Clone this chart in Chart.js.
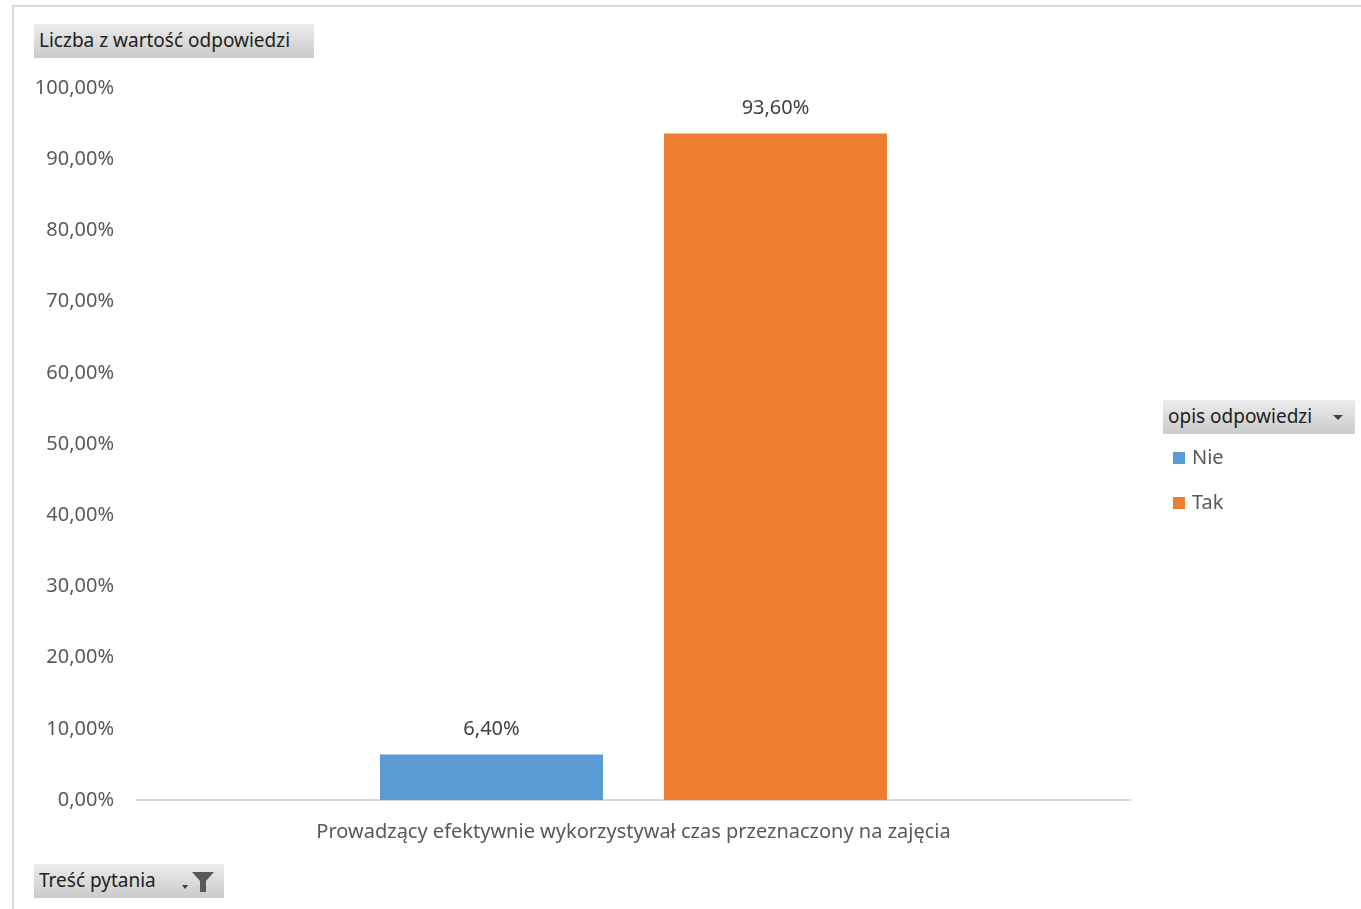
<!DOCTYPE html>
<html>
<head>
<meta charset="utf-8">
<script src="https://cdn.jsdelivr.net/npm/chart.js@4.4.0/dist/chart.umd.min.js"></script>
<style>
  body { margin:0; background:#fff; font-family:"Noto Sans", sans-serif; }
  #wrap { position:absolute; left:0; top:0; width:1361px; height:909px; }
  #frame { position:absolute; left:12px; top:5px; width:1349px; height:904px;
    border-top:2px solid #d9d9d9; border-left:2px solid #d9d9d9; box-sizing:border-box; }
  .btn { position:absolute; height:34px; line-height:33px; font-size:19px; color:#222;
    background:linear-gradient(#ececec, #cbcbcb); padding-left:5px; box-sizing:border-box; white-space:nowrap; }
  .tri { position:absolute; width:0; height:0; border-left:5px solid transparent;
    border-right:5px solid transparent; border-top:5px solid #404040; }
  .leg { position:absolute; font-size:20px; color:#595959; }
  .leg span { display:inline-block; width:12px; height:12px; margin-right:7px; vertical-align:0px; }
</style>
</head>
<body>
<div id="wrap">
  <div id="frame"></div>
  <canvas id="chart" width="1361" height="909"></canvas>
  <div class="btn" style="left:34px;top:24px;width:280px;">Liczba z wartość odpowiedzi</div>
  <div class="btn" style="left:1163px;top:400px;width:192px;">opis odpowiedzi<div class="tri" style="left:170px;top:15px;"></div></div>
  <div class="btn" style="left:34px;top:864px;width:190px;">Treść pytania
    <div class="tri" style="left:148px;top:21px;border-width:4px 3px 0 3px;"></div>
    <svg style="position:absolute;left:157px;top:7px;" width="24" height="22" viewBox="0 0 24 22">
      <path d="M1 1 H23 L15 10 V21 H9 V10 Z" fill="#595959"/>
    </svg>
  </div>
  <div id="legend"></div>
</div>
<script>
// dane
var categories = ["Prowadzący efektywnie wykorzystywał czas przeznaczony na zajęcia"];
var seriesNames = ["Nie", "Tak"];
var seriesValues = [[6.40], [93.60]];
var seriesColors = ["#5b9bd5", "#ed7d31"];
var yTicks = [0, 10, 20, 30, 40, 50, 60, 70, 80, 90, 100];

function fmt(v){
	return v.toFixed(2).replace(".", ",") + "%";
}

var datasets = [];
for (var i = 0; i < seriesNames.length; i++) {
	datasets.push({
		label: seriesNames[i],
		data: seriesValues[i],
		backgroundColor: seriesColors[i],
		categoryPercentage: 0.572,
		barPercentage: 0.785
	});
}

// legenda html
var legend = document.getElementById("legend");
for (var i = 0; i < seriesNames.length; i++) {
	var d = document.createElement("div");
	d.className = "leg";
	d.style.left = "1173px";
	d.style.top = (443 + i * 45) + "px";
	d.innerHTML = '<span style="background:' + seriesColors[i] + '"></span>' + seriesNames[i];
	legend.appendChild(d);
}

var valueLabels = {
	id: "valueLabels",
	afterDatasetsDraw: function(chart){
		var ctx = chart.ctx;
		ctx.save();
		ctx.font = "20px 'Noto Sans'";
		ctx.fillStyle = "#404040";
		ctx.textAlign = "center";
		ctx.textBaseline = "middle";
		chart.data.datasets.forEach(function(ds, i){
			chart.getDatasetMeta(i).data.forEach(function(bar, j){
				ctx.fillText(fmt(ds.data[j]), bar.x, bar.y - 25);
			});
		});
		ctx.restore();
	}
};

new Chart(document.getElementById("chart"), {
	type: "bar",
	data: { labels: categories, datasets: datasets },
	plugins: [valueLabels],
	options: {
		responsive: false,
		animation: false,
		layout: { padding: { left: 20, right: 231, top: 88, bottom: 59 } },
		plugins: { legend: { display: false }, tooltip: { enabled: false } },
		scales: {
			x: {
				grid: { display: false, drawTicks: false },
				border: { color: "#d9d9d9", width: 2 },
				ticks: { color: "#595959", font: { family: "Noto Sans", size: 20 }, padding: 20 },
				afterFit: function(s){ s.height = 50; }
			},
			y: {
				min: 0, max: 100,
				afterBuildTicks: function(s){ s.ticks = yTicks.map(function(v){ return { value: v }; }); },
				grid: { display: false, drawTicks: false },
				border: { display: false },
				ticks: { color: "#595959", font: { family: "Noto Sans", size: 20 }, padding: 23,
					callback: function(v){ return fmt(v); } },
				afterFit: function(s){ s.width = 117; }
			}
		}
	}
});
</script>
</body>
</html>
